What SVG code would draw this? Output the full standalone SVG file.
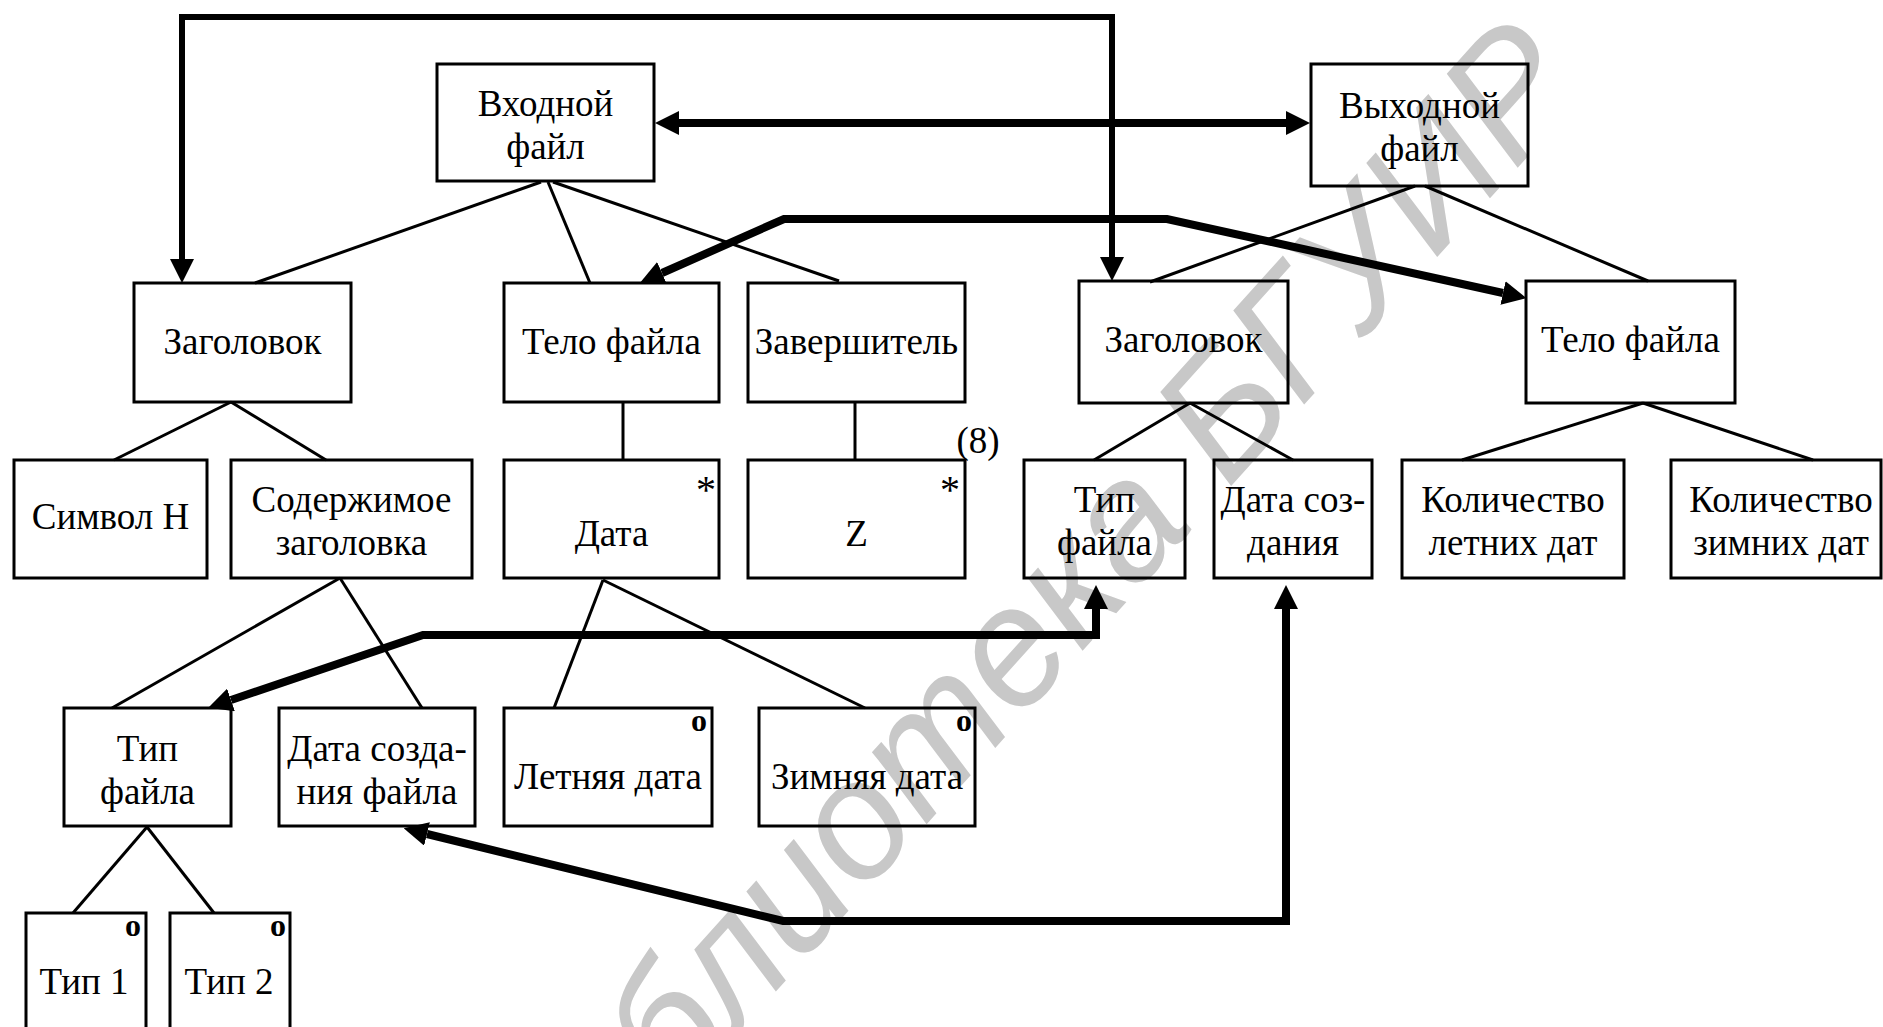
<svg xmlns="http://www.w3.org/2000/svg" width="1883" height="1027" viewBox="0 0 1883 1027">
<defs>
<style>
.box{fill:none;stroke:#000;stroke-width:3}
.t{font-family:"Liberation Serif","Times New Roman",serif;font-size:37px;fill:#000;text-anchor:middle}
.ast{font-family:"Liberation Serif","Times New Roman",serif;font-size:40px;fill:#000;text-anchor:middle}
.mk{font-family:"Liberation Serif","Times New Roman",serif;font-size:32px;font-weight:bold;fill:#000;text-anchor:middle}
.tree{stroke:#000;stroke-width:3;fill:none}
.thick{stroke:#000;stroke-width:8;fill:none;stroke-linejoin:miter}
.med{stroke:#000;stroke-width:6;fill:none;stroke-linejoin:miter}
.wm{font-family:"Liberation Sans",Arial,sans-serif;font-style:italic;font-size:168px;fill:#c8c8c8;text-anchor:middle}
</style>
<marker id="ah" viewBox="0 0 24 24" markerWidth="24" markerHeight="24" markerUnits="userSpaceOnUse" refX="0" refY="12" orient="auto-start-reverse">
<path d="M0,0 L24,12 L0,24 z" fill="#000"/>
</marker>
</defs>
<rect x="0" y="0" width="1883" height="1027" fill="#fff"/>
<text class="wm" x="1064.5" y="671" transform="rotate(-48 1064.5 671)">Библиотека БГУИР</text>

<g id="connectors">
<g id="tree-lines">
<line class="tree" x1="541" y1="182" x2="255" y2="283"/>
<line class="tree" x1="548" y1="182" x2="590" y2="283"/>
<line class="tree" x1="553" y1="182" x2="839" y2="281"/>
<line class="tree" x1="1415" y1="186" x2="1150" y2="282"/>
<line class="tree" x1="1425" y1="186" x2="1648" y2="281"/>
<line class="tree" x1="231" y1="402" x2="114" y2="460"/>
<line class="tree" x1="231" y1="402" x2="326" y2="460"/>
<line class="tree" x1="623" y1="402" x2="623" y2="460"/>
<line class="tree" x1="855" y1="402" x2="855" y2="460"/>
<line class="tree" x1="1190" y1="403" x2="1094" y2="460"/>
<line class="tree" x1="1190" y1="403" x2="1293" y2="460"/>
<line class="tree" x1="1643" y1="403" x2="1462" y2="460"/>
<line class="tree" x1="1643" y1="403" x2="1813" y2="460"/>
<line class="tree" x1="340" y1="578" x2="112" y2="708"/>
<line class="tree" x1="340" y1="578" x2="422" y2="708"/>
<line class="tree" x1="603" y1="580" x2="554" y2="708"/>
<line class="tree" x1="603" y1="580" x2="865" y2="708"/>
<line class="tree" x1="147" y1="827" x2="73" y2="913"/>
<line class="tree" x1="147" y1="827" x2="214" y2="913"/>
</g>
<g id="links">
<path class="med" d="M182,259 L182,17 L1112,17 L1112,257" marker-start="url(#ah)" marker-end="url(#ah)"/>
<path class="thick" d="M679,123 L1286,123" marker-start="url(#ah)" marker-end="url(#ah)"/>
<path class="thick" d="M662,273 L784,219 L1167,219 L1503,293" marker-start="url(#ah)" marker-end="url(#ah)"/>
<path class="thick" d="M231,700 L423,635 L1096,635 L1096,609" marker-start="url(#ah)" marker-end="url(#ah)"/>
<path class="thick" d="M427,834 L783,921 L1286,921 L1286,609" marker-start="url(#ah)" marker-end="url(#ah)"/>
</g>
</g>

<g id="n-vhodnoy"><rect class="box" x="437" y="64" width="217" height="117"/><text class="t" x="545.5" y="115.5">Входной</text><text class="t" x="545.5" y="158.5">файл</text></g>
<g id="n-vyhodnoy"><rect class="box" x="1311" y="64" width="217" height="122"/><text class="t" x="1419.5" y="118">Выходной</text><text class="t" x="1419.5" y="161">файл</text></g>

<g id="n-zag-l"><rect class="box" x="134" y="283" width="217" height="119"/><text class="t" x="242.5" y="353.5">Заголовок</text></g>
<g id="n-telo-l"><rect class="box" x="504" y="283" width="215" height="119"/><text class="t" x="611.5" y="353.5">Тело файла</text></g>
<g id="n-zaversh"><rect class="box" x="748" y="283" width="217" height="119"/><text class="t" x="856.5" y="353.5">Завершитель</text></g>
<g id="n-zag-r"><rect class="box" x="1079" y="281" width="209" height="122"/><text class="t" x="1183.5" y="352">Заголовок</text></g>
<g id="n-telo-r"><rect class="box" x="1526" y="281" width="209" height="122"/><text class="t" x="1630.5" y="352">Тело файла</text></g>

<g id="n-simvol"><rect class="box" x="14" y="460" width="193" height="118"/><text class="t" x="110.5" y="529">Символ Н</text></g>
<g id="n-soderzh"><rect class="box" x="231" y="460" width="241" height="118"/><text class="t" x="351.5" y="512">Содержимое</text><text class="t" x="351.5" y="555">заголовка</text></g>
<g id="n-data"><rect class="box" x="504" y="460" width="215" height="118"/><text class="ast" x="706" y="503">*</text><text class="t" x="611.5" y="546">Дата</text></g>
<g id="n-z"><rect class="box" x="748" y="460" width="217" height="118"/><text class="ast" x="950" y="503">*</text><text class="t" x="856.5" y="546">Z</text><text class="t" x="978" y="453">(8)</text></g>
<g id="n-tip-r"><rect class="box" x="1024" y="460" width="161" height="118"/><text class="t" x="1104.5" y="512">Тип</text><text class="t" x="1104.5" y="555">файла</text></g>
<g id="n-data-r"><rect class="box" x="1214" y="460" width="158" height="118"/><text class="t" x="1293" y="512">Дата соз-</text><text class="t" x="1293" y="555">дания</text></g>
<g id="n-kol-let"><rect class="box" x="1402" y="460" width="222" height="118"/><text class="t" x="1513" y="512">Количество</text><text class="t" x="1513" y="555">летних дат</text></g>
<g id="n-kol-zim"><rect class="box" x="1671" y="460" width="210" height="118"/><text class="t" x="1781" y="512">Количество</text><text class="t" x="1781" y="555">зимних дат</text></g>

<g id="n-tip-l"><rect class="box" x="64" y="708" width="167" height="118"/><text class="t" x="147.5" y="761">Тип</text><text class="t" x="147.5" y="804">файла</text></g>
<g id="n-data-sozd"><rect class="box" x="279" y="708" width="196" height="118"/><text class="t" x="377" y="761">Дата созда-</text><text class="t" x="377" y="804">ния файла</text></g>
<g id="n-letn"><rect class="box" x="504" y="708" width="208" height="118"/><text class="mk" x="699" y="731">o</text><text class="t" x="608" y="789">Летняя дата</text></g>
<g id="n-zimn"><rect class="box" x="759" y="708" width="216" height="118"/><text class="mk" x="964" y="731">o</text><text class="t" x="867" y="789">Зимняя дата</text></g>

<g id="n-tip1"><rect class="box" x="26" y="913" width="120" height="130"/><text class="mk" x="133" y="936">o</text><text class="t" x="84" y="994">Тип 1</text></g>
<g id="n-tip2"><rect class="box" x="170" y="913" width="120" height="130"/><text class="mk" x="278" y="936">o</text><text class="t" x="229" y="994">Тип 2</text></g>
</svg>
